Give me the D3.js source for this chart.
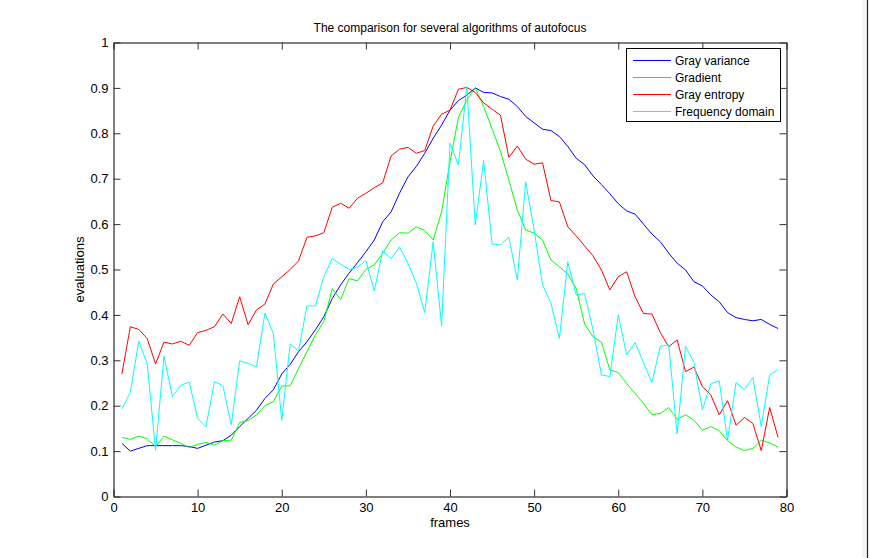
<!DOCTYPE html>
<html>
<head>
<meta charset="utf-8">
<script src="https://cdn.jsdelivr.net/npm/d3@7"></script>
<style>
  html, body { margin: 0; padding: 0; background: #fff; }
  svg { display: block; font-family: "Liberation Sans", Arial, sans-serif; }
</style>
</head>
<body>
<svg id="chart" width="869" height="558"></svg>
<script>
const title = "The comparison for several algorithms of autofocus";
const xLabel = "frames";
const yLabel = "evaluations";
const seriesNames = ["Gray variance", "Gradient", "Gray entropy", "Frequency domain"];
const seriesColors = ["#0000ff", "#00ff00", "#ff0000", "#00ffff"];
const xTicks = [0, 10, 20, 30, 40, 50, 60, 70, 80];
const yTicks = [0, 0.1, 0.2, 0.3, 0.4, 0.5, 0.6, 0.7, 0.8, 0.9, 1];

const frames = d3.range(1, 80);

const grayVariance = [0.117,0.100,0.106,0.112,0.112,0.112,0.112,0.112,0.110,0.106,
  0.113,0.120,0.123,0.135,0.154,0.172,0.190,0.216,0.235,0.270,
  0.291,0.319,0.341,0.367,0.396,0.436,0.466,0.492,0.515,0.539,
  0.565,0.605,0.627,0.668,0.704,0.727,0.756,0.789,0.818,0.851,
  0.872,0.884,0.900,0.890,0.889,0.881,0.875,0.859,0.837,0.823,
  0.809,0.806,0.793,0.771,0.745,0.731,0.706,0.687,0.667,0.645,
  0.629,0.622,0.600,0.578,0.561,0.536,0.514,0.499,0.473,0.464,
  0.444,0.429,0.405,0.394,0.390,0.387,0.390,0.379,0.370];

const gradient = [0.130,0.126,0.133,0.127,0.110,0.133,0.125,0.117,0.108,0.115,
  0.119,0.113,0.123,0.124,0.163,0.167,0.180,0.200,0.209,0.243,
  0.244,0.282,0.319,0.356,0.385,0.458,0.434,0.480,0.475,0.500,
  0.510,0.536,0.565,0.581,0.580,0.594,0.586,0.565,0.627,0.737,
  0.835,0.873,0.900,0.859,0.810,0.760,0.697,0.631,0.587,0.580,
  0.565,0.521,0.506,0.490,0.458,0.380,0.352,0.340,0.279,0.273,
  0.249,0.227,0.205,0.180,0.183,0.196,0.170,0.180,0.168,0.146,
  0.154,0.145,0.123,0.109,0.101,0.106,0.124,0.118,0.109];

const grayEntropy = [0.270,0.374,0.368,0.348,0.292,0.340,0.336,0.342,0.333,0.361,
  0.366,0.374,0.402,0.381,0.440,0.378,0.411,0.424,0.468,0.484,
  0.500,0.519,0.571,0.574,0.581,0.637,0.646,0.635,0.657,0.668,
  0.680,0.691,0.750,0.765,0.769,0.756,0.762,0.816,0.842,0.851,
  0.897,0.901,0.890,0.867,0.853,0.840,0.747,0.772,0.743,0.732,
  0.735,0.652,0.649,0.594,0.574,0.552,0.530,0.499,0.455,0.484,
  0.495,0.440,0.403,0.402,0.361,0.330,0.345,0.275,0.285,0.242,
  0.224,0.180,0.211,0.157,0.174,0.161,0.101,0.196,0.130];

const frequencyDomain = [0.193,0.229,0.342,0.293,0.102,0.309,0.220,0.245,0.252,0.172,
  0.154,0.253,0.244,0.158,0.299,0.293,0.286,0.404,0.359,0.168,
  0.336,0.321,0.420,0.420,0.484,0.524,0.512,0.500,0.505,0.519,
  0.453,0.541,0.524,0.550,0.514,0.470,0.405,0.561,0.376,0.778,
  0.730,0.903,0.598,0.740,0.556,0.554,0.571,0.477,0.693,0.587,
  0.466,0.426,0.348,0.517,0.444,0.447,0.367,0.268,0.264,0.400,
  0.312,0.339,0.295,0.251,0.331,0.334,0.138,0.331,0.295,0.191,
  0.248,0.255,0.124,0.251,0.236,0.262,0.154,0.268,0.279];

const seriesValues = [grayVariance, gradient, grayEntropy, frequencyDomain];

const svg = d3.select("#chart");
const L = 113.5, R = 786.5, T = 42.5, B = 496.5;
const x = d3.scaleLinear().domain([0, 80]).range([L, R]);
const y = d3.scaleLinear().domain([0, 1]).range([B, T]);
const fmt = d => String(+d.toFixed(1));

svg.append("rect").attr("width", 869).attr("height", 558).attr("fill", "#fff");
// figure frame at right
svg.append("rect").attr("x", 862).attr("y", 0).attr("width", 5).attr("height", 558).attr("fill", "#f3f3f3");
svg.append("line").attr("x1", 867.5).attr("x2", 867.5).attr("y1", 0).attr("y2", 558)
  .attr("stroke", "#222").attr("stroke-width", 1.2);

const tickLen = 7;
const gx = svg.append("g").attr("transform", `translate(0,${B})`)
  .call(d3.axisBottom(x).tickValues(xTicks).tickFormat(fmt).tickSizeInner(-tickLen).tickSizeOuter(0).tickPadding(6));
const gxt = svg.append("g").attr("transform", `translate(0,${T})`)
  .call(d3.axisTop(x).tickValues(xTicks).tickFormat("").tickSizeInner(-tickLen).tickSizeOuter(0));
const gy = svg.append("g").attr("transform", `translate(${L},0)`)
  .call(d3.axisLeft(y).tickValues(yTicks).tickFormat(fmt).tickSizeInner(-tickLen).tickSizeOuter(0).tickPadding(5));
const gyr = svg.append("g").attr("transform", `translate(${R},0)`)
  .call(d3.axisRight(y).tickValues(yTicks).tickFormat("").tickSizeInner(-tickLen).tickSizeOuter(0));

svg.selectAll(".domain").attr("stroke", "#000").attr("stroke-width", 1);
svg.selectAll(".tick line").attr("stroke", "#333").attr("stroke-width", 1);
svg.selectAll(".tick text").attr("font-size", 13).attr("fill", "#000")
  .attr("font-family", "Liberation Sans, Arial, sans-serif");

// lines
const lineGen = vals => d3.line().x((d, i) => x(frames[i])).y(d => y(d))(vals);
seriesValues.forEach((vals, k) => {
  svg.append("path").attr("d", lineGen(vals)).attr("fill", "none")
    .attr("stroke", seriesColors[k]).attr("stroke-width", 1).attr("stroke-linejoin", "miter");
});

// title and labels
svg.append("text").attr("x", (L + R) / 2).attr("y", 31.5).attr("text-anchor", "middle")
  .attr("font-size", 12).attr("fill", "#000").text(title);
svg.append("text").attr("x", (L + R) / 2).attr("y", 527).attr("text-anchor", "middle")
  .attr("font-size", 13).attr("fill", "#000").text(xLabel);
svg.append("text").attr("transform", `translate(84,${(T + B) / 2}) rotate(-90)`).attr("text-anchor", "middle")
  .attr("font-size", 13).attr("fill", "#000").text(yLabel);

// legend
const lg = svg.append("g");
lg.append("rect").attr("x", 626.5).attr("y", 48.5).attr("width", 154).attr("height", 73)
  .attr("fill", "#fff").attr("stroke", "#000").attr("stroke-width", 1);
const rowY = [60.5, 77.5, 94.5, 111.5];
seriesNames.forEach((name, k) => {
  lg.append("line").attr("x1", 633).attr("x2", 671).attr("y1", rowY[k]).attr("y2", rowY[k])
    .attr("stroke", seriesColors[k]).attr("stroke-width", 1);
  lg.append("text").attr("x", 675).attr("y", rowY[k] + 4.5).attr("font-size", 12)
    .attr("fill", "#000").text(name);
});
</script>
</body>
</html>
